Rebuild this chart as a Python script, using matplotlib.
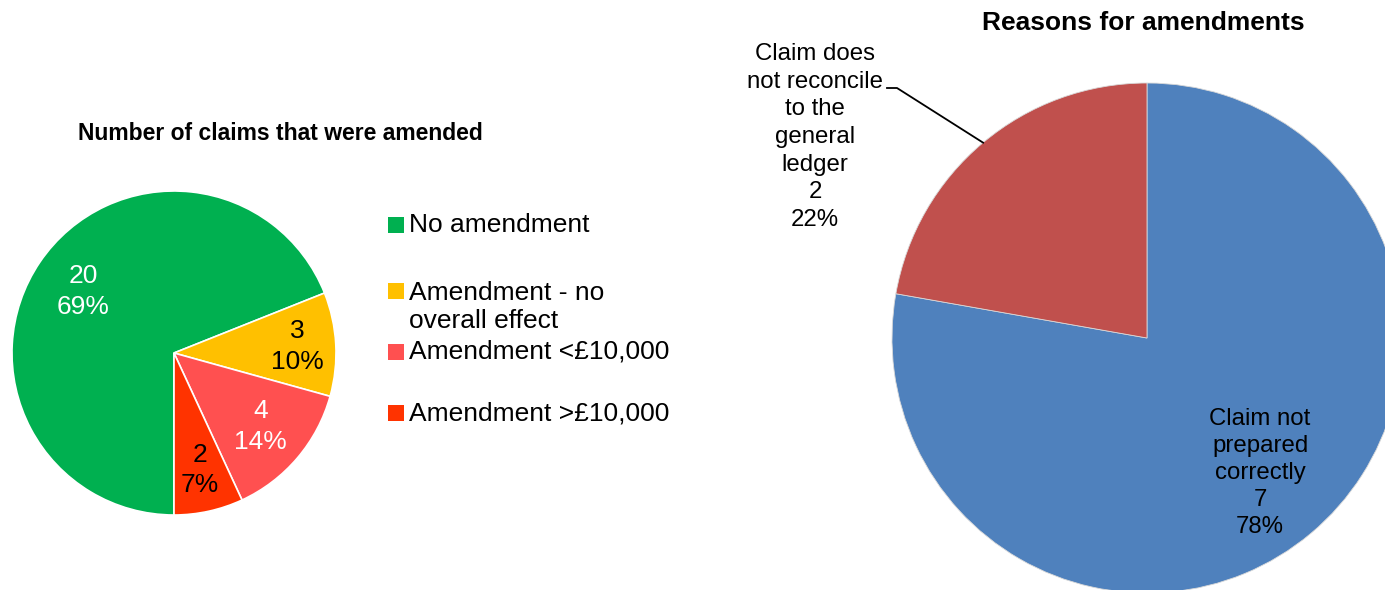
import numpy as np
import matplotlib.pyplot as plt

plt.rcParams['font.family'] = ['Liberation Sans', 'DejaVu Sans']

# left chart: number of claims amended
claim_labels = ['No amendment', 'Amendment - no\noverall effect',
                'Amendment <£10,000', 'Amendment >£10,000']
claim_counts = [20, 3, 4, 2]
claim_colors = ['#00B050', '#FFC000', '#FF5050', '#FF3300']
claim_text_colors = ['white', 'black', 'white', 'black']

# right chart: reasons for amendments
reason_labels = ['Claim not\nprepared\ncorrectly', 'Claim does\nnot reconcile\nto the\ngeneral\nledger']
reason_counts = [7, 2]
reason_colors = ['#4F81BD', '#C0504D']

W, H = 1385, 590
fig = plt.figure(figsize=(W / 100, H / 100), dpi=100)
ax = fig.add_axes([0, 0, 1, 1])

# ---- left pie ----
lc, lr = (174, H - 353), 162
wedges, _ = ax.pie(claim_counts, colors=claim_colors, startangle=270, counterclock=False,
                   center=lc, radius=lr, frame=True,
                   wedgeprops=dict(edgecolor='white', linewidth=1.2))
total = sum(claim_counts)
lab_dist = [0.68, 0.76, 0.70, 0.74]
for w, n, tc, d in zip(wedges, claim_counts, claim_text_colors, lab_dist):
    mid = np.deg2rad((w.theta1 + w.theta2) / 2)
    x = lc[0] + d * lr * np.cos(mid)
    y = lc[1] + d * lr * np.sin(mid)
    ax.text(x, y, f'{n}\n{round(100 * n / total)}%', color=tc, fontsize=19,
            ha='center', va='center', linespacing=1.35)

ax.text(280, H - 133, 'Number of claims that were amended', fontsize=16.5,
        fontweight='bold', ha='center', va='center')

# legend
leg_y = [225, 291, 352, 413]
for lab, col, yy in zip(claim_labels, claim_colors, leg_y):
    ax.scatter([396], [H - yy], marker='s', s=120, color=col, linewidths=0)
    if '\n' in lab:
        ax.text(409, H - yy + 10, lab, fontsize=19, ha='left', va='top', linespacing=1.2)
    else:
        ax.text(409, H - yy, lab, fontsize=19, ha='left', va='center')

# ---- right pie ----
rc, rr = (1147, H - 338), 255
rwedges, _ = ax.pie(reason_counts, colors=reason_colors, startangle=90, counterclock=False,
                    center=rc, radius=rr, frame=True,
                    wedgeprops=dict(edgecolor='#D9D9D9', linewidth=0.6))
rtotal = sum(reason_counts)

# inside label for the big slice
w = rwedges[0]
mid = np.deg2rad((w.theta1 + w.theta2) / 2)
ax.text(rc[0] + 0.69 * rr * np.cos(mid), rc[1] + 0.69 * rr * np.sin(mid),
        f'{reason_labels[0]}\n{reason_counts[0]}\n{round(100 * reason_counts[0] / rtotal)}%',
        fontsize=17.3, ha='center', va='center', linespacing=1.3)

# outside label with leader line for the small slice
w = rwedges[1]
mid = np.deg2rad((w.theta1 + w.theta2) / 2)
ex, ey = rc[0] + rr * np.cos(mid), rc[1] + rr * np.sin(mid)
ax.plot([887, 897, ex], [H - 88, H - 88, ey], color='black', linewidth=1.3)
ax.text(815, H - 137,
        f'{reason_labels[1]}\n{reason_counts[1]}\n{round(100 * reason_counts[1] / rtotal)}%',
        fontsize=17.3, ha='center', va='center', linespacing=1.33)

ax.text(1143, H - 23, 'Reasons for amendments', fontsize=19,
        fontweight='bold', ha='center', va='center')

ax.set_xlim(0, W)
ax.set_ylim(0, H)
ax.set_aspect('auto')
ax.axis('off')

fig.savefig('out.png', dpi=100, facecolor='white')
